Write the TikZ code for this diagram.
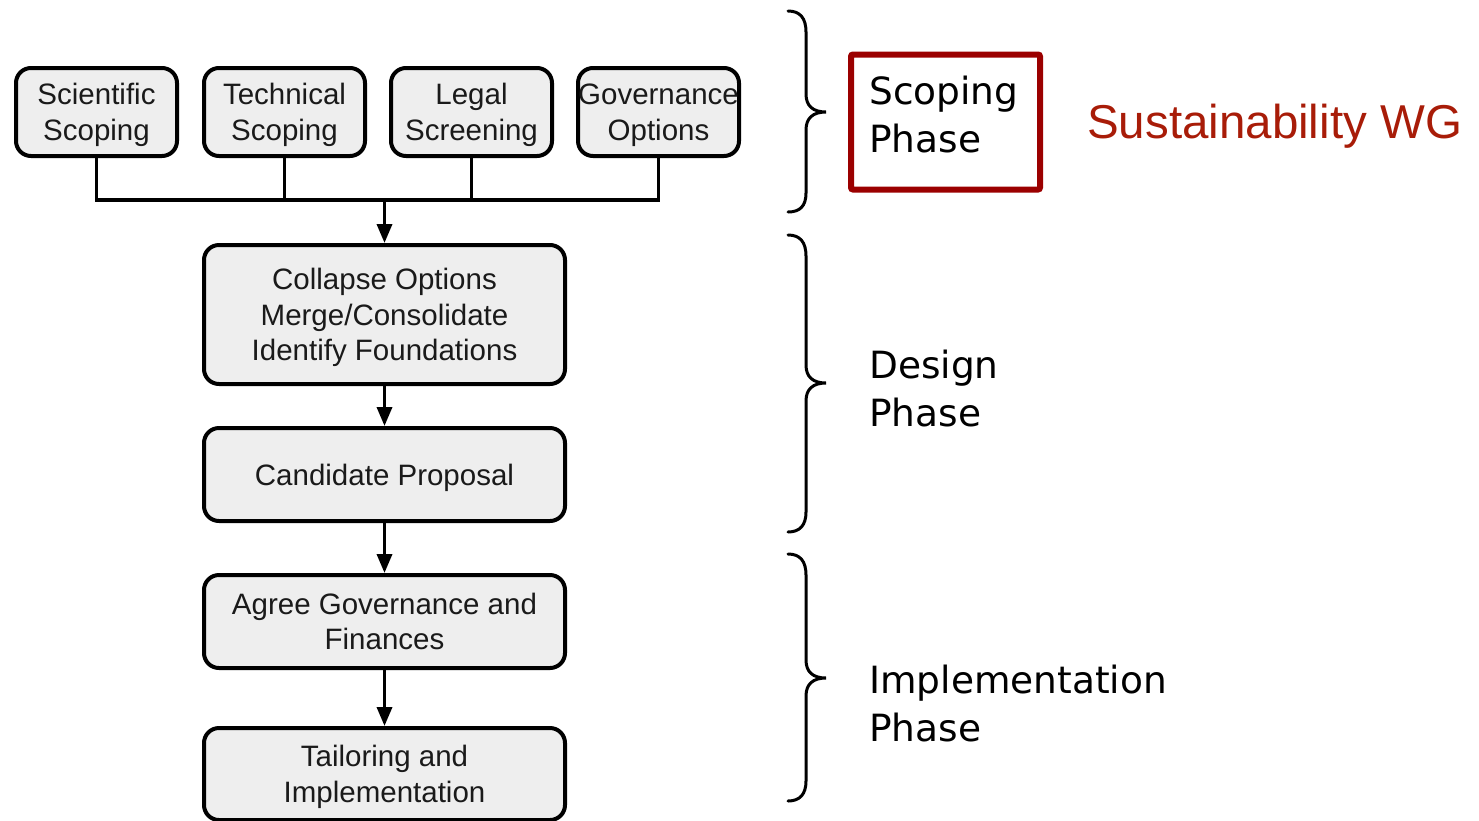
\documentclass[tikz,border=0pt]{standalone}
\usepackage{fontspec}
\setmainfont{Liberation Sans}
\newfontfamily\phasefont{DejaVu Sans}
\usetikzlibrary{arrows.meta}
\definecolor{boxfill}{HTML}{EEEEEE}
\definecolor{wgred}{RGB}{168,28,8}
\definecolor{framered}{RGB}{155,0,0}
\definecolor{txt}{HTML}{1A1A1A}
\newcommand{\sth}{\rule{0pt}{29pt}}
\newcommand{\std}{\rule[-8pt]{0pt}{8pt}}
\tikzset{
  stepbox/.style={draw=black, line width=4pt, fill=boxfill, rounded corners=15pt,
    inner sep=0pt, align=center, text=txt,
    font=\fontsize{29.5}{35.5}\selectfont},
  conn/.style={line width=3.5pt, draw=black},
  arr/.style={conn, -{Triangle[length=19pt,width=15pt]}},
  bracestyle/.style={line width=3pt, line cap=round, draw=black},
  phaselabel/.style={anchor=north west, inner sep=0pt, align=left,
    font=\phasefont\fontsize{37.5}{48}\selectfont},
}
\begin{document}
\begin{tikzpicture}[x=1pt,y=-1pt]
\useasboundingbox (0,0) rectangle (1479,820);
% top boxes
\node[stepbox, minimum width=161pt, minimum height=88pt] (s1) at (96.5,112) {\sth Scientific\\Scoping\std};
\node[stepbox, minimum width=161pt, minimum height=88pt] (s2) at (284.5,112) {\sth Technical\\Scoping\std};
\node[stepbox, minimum width=161pt, minimum height=88pt] (s3) at (471.5,112) {\sth Legal\\Screening\std};
\node[stepbox, minimum width=161pt, minimum height=88pt] (s4) at (658.5,112) {\sth Governance\\Options\std};
% main column
\node[stepbox, minimum width=361pt, minimum height=139pt] (c1) at (384.5,314.5) {\sth Collapse Options\\Merge/Consolidate\\Identify Foundations\std};
\node[stepbox, minimum width=361pt, minimum height=93pt] (c2) at (384.5,474.5) {\sth Candidate Proposal\std};
\node[stepbox, minimum width=361pt, minimum height=93pt] (c3) at (384.5,621.5) {\sth Agree Governance and\\Finances\std};
\node[stepbox, minimum width=361pt, minimum height=92pt] (c4) at (384.5,774) {\sth Tailoring and\\Implementation\std};
% connectors
\coordinate (j) at (384.5,200);
\draw[conn] (s1.south) |- (j);
\draw[conn] (s4.south) |- (j);
\draw[conn] (s2.south) -- (s2.south |- j);
\draw[conn] (s3.south) -- (s3.south |- j);
\draw[arr] (j) -- (c1.north);
\draw[arr] (c1.south) -- (c2.north);
\draw[arr] (c2.south) -- (c3.north);
\draw[arr] (c3.south) -- (c4.north);
% braces
\draw[bracestyle] (788,11) .. controls (800,11) and (806,18) .. (806,32) -- (806,94)
  .. controls (806,106) and (813,112) .. (826,112)
  .. controls (813,112) and (806,118) .. (806,130) -- (806,193)
  .. controls (806,206) and (800,212) .. (788,212);
\draw[bracestyle] (788,235) .. controls (800,235) and (806,242) .. (806,256) -- (806,365)
  .. controls (806,377) and (813,383) .. (826,383)
  .. controls (813,383) and (806,389) .. (806,401) -- (806,512)
  .. controls (806,525) and (800,532) .. (788,532);
\draw[bracestyle] (788,554) .. controls (800,554) and (806,561) .. (806,575) -- (806,660)
  .. controls (806,672) and (813,678) .. (826,678)
  .. controls (813,678) and (806,684) .. (806,696) -- (806,781)
  .. controls (806,794) and (800,801) .. (788,801);
% phase labels
\node[draw=framered, line width=6pt, rounded corners=2pt, minimum width=189pt, minimum height=135pt, inner sep=0pt] (frame) at (945.5,122) {};
\node[phaselabel] (lscope) at (869,76) {Scoping\\Phase};
\node[phaselabel] (ldesign) at (869,350) {Design\\Phase};
\node[phaselabel] (limpl) at (869,665) {Implementation\\Phase};
\node[anchor=base west, inner sep=0pt, text=wgred, font=\fontsize{47.5}{55}\selectfont] (wg) at (1087,138) {Sustainability WG};
\end{tikzpicture}
\end{document}
